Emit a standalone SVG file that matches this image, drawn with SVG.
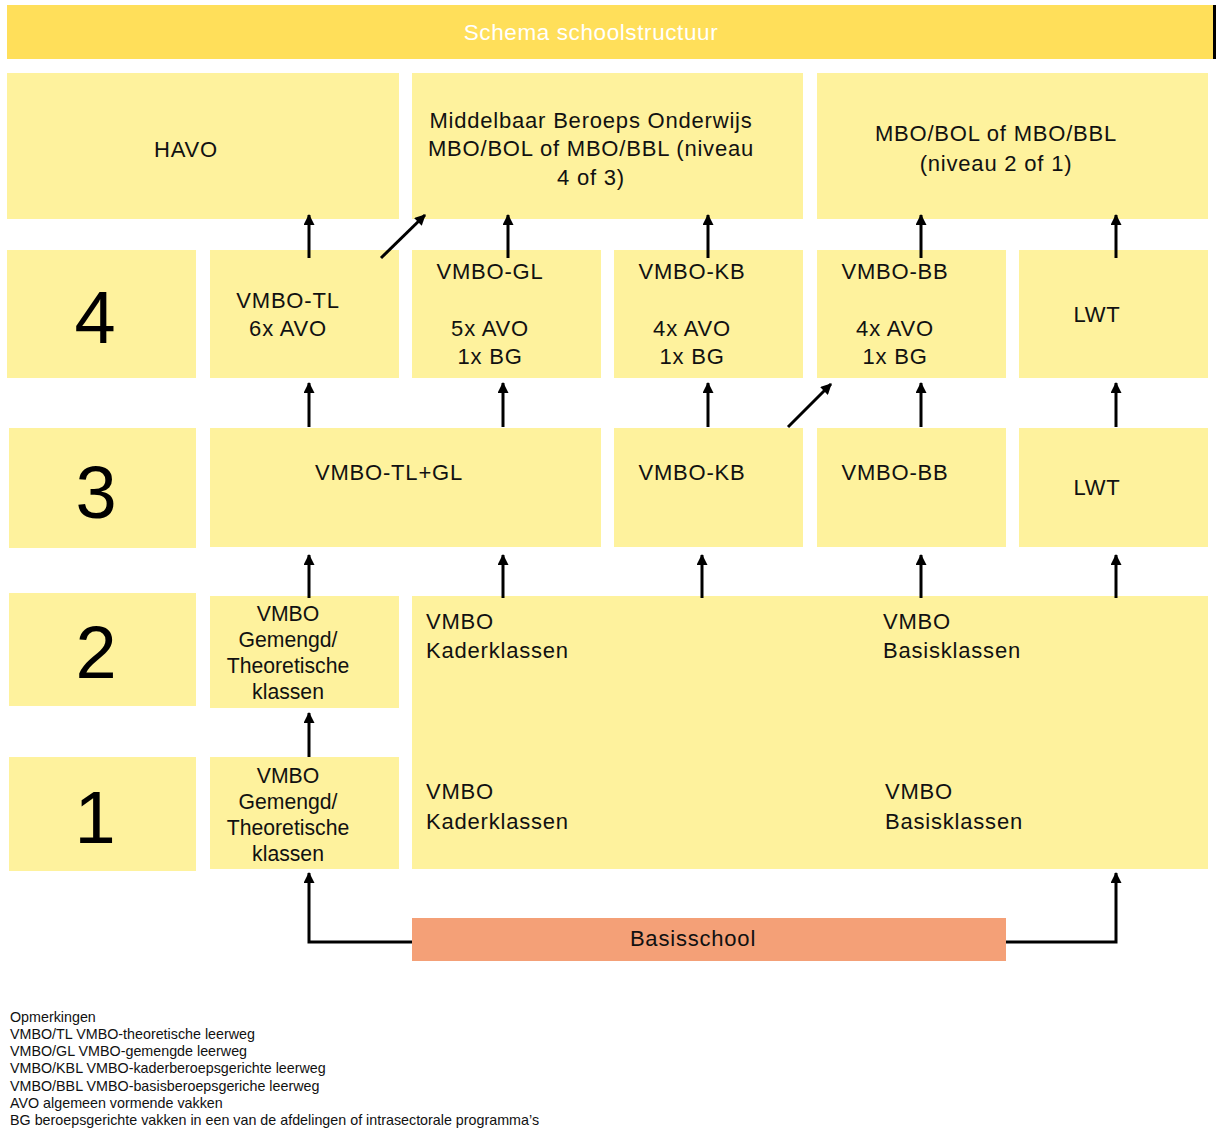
<svg xmlns="http://www.w3.org/2000/svg" width="1216" height="1131" viewBox="0 0 1216 1131">
<style>
.box{fill:#FEF29D;}
.t{font-family:"Liberation Sans",Arial,sans-serif;font-size:22px;fill:#111;letter-spacing:0.8px;}
.g{font-family:"Liberation Sans",Arial,sans-serif;font-size:21.2px;fill:#111;text-anchor:middle;}
.c{text-anchor:middle;}
.num{font-family:"Liberation Sans",Arial,sans-serif;font-size:74px;fill:#000;text-anchor:middle;}
.note{font-family:"Liberation Sans",Arial,sans-serif;font-size:14.3px;fill:#111;}
.conn{stroke:#000;stroke-width:3;fill:none;}
</style>
<defs>
<marker id="ah" viewBox="0 0 10 10" refX="9" refY="5" markerUnits="userSpaceOnUse" markerWidth="15" markerHeight="11" orient="auto">
<path d="M0,0 L10,5 L0,10 z" fill="#000"/>
</marker>
</defs>
<rect width="1216" height="1131" fill="#fff"/>
<g id="title">
<rect x="7" y="5" width="1207" height="54" fill="#FFDF5A"/>
<rect x="1213" y="5" width="3" height="54" fill="#000"/>
<text x="591" y="40" class="t c" style="fill:#fff;letter-spacing:0.6px;font-size:22.5px">Schema schoolstructuur</text>
</g>
<g id="havo"><rect class="box" x="7" y="73" width="392" height="146"/><text class="t c" x="186" y="157">HAVO</text></g>
<g id="mbo34"><rect class="box" x="412" y="73" width="391" height="146"/>
<text class="t c" x="591" y="128">Middelbaar Beroeps Onderwijs</text>
<text class="t c" x="591" y="156">MBO/BOL of MBO/BBL (niveau</text>
<text class="t c" x="591" y="185">4 of 3)</text></g>
<g id="mbo21"><rect class="box" x="817" y="73" width="391" height="146"/>
<text class="t c" x="996" y="141">MBO/BOL of MBO/BBL</text>
<text class="t c" x="996" y="171">(niveau 2 of 1)</text></g>

<g id="n4"><rect class="box" x="7" y="250" width="189" height="128"/><text class="num" x="95" y="343">4</text></g>
<g id="tl4"><rect class="box" x="210" y="250" width="189" height="128"/>
<text class="t c" x="288" y="308">VMBO-TL</text><text class="t c" x="288" y="336">6x AVO</text></g>
<g id="gl4"><rect class="box" x="412" y="250" width="189" height="128"/>
<text class="t c" x="490" y="279">VMBO-GL</text><text class="t c" x="490" y="336">5x AVO</text><text class="t c" x="490" y="364">1x BG</text></g>
<g id="kb4"><rect class="box" x="614" y="250" width="189" height="128"/>
<text class="t c" x="692" y="279">VMBO-KB</text><text class="t c" x="692" y="336">4x AVO</text><text class="t c" x="692" y="364">1x BG</text></g>
<g id="bb4"><rect class="box" x="817" y="250" width="189" height="128"/>
<text class="t c" x="895" y="279">VMBO-BB</text><text class="t c" x="895" y="336">4x AVO</text><text class="t c" x="895" y="364">1x BG</text></g>
<g id="lwt4"><rect class="box" x="1019" y="250" width="189" height="128"/><text class="t c" x="1097" y="322">LWT</text></g>

<g id="n3"><rect class="box" x="9" y="428" width="187" height="120"/><text class="num" x="96" y="518">3</text></g>
<g id="tlgl3"><rect class="box" x="210" y="428" width="391" height="119"/><text class="t c" x="389" y="480">VMBO-TL+GL</text></g>
<g id="kb3"><rect class="box" x="614" y="428" width="189" height="119"/><text class="t c" x="692" y="480">VMBO-KB</text></g>
<g id="bb3"><rect class="box" x="817" y="428" width="189" height="119"/><text class="t c" x="895" y="480">VMBO-BB</text></g>
<g id="lwt3"><rect class="box" x="1019" y="428" width="189" height="119"/><text class="t c" x="1097" y="495">LWT</text></g>

<g id="n2"><rect class="box" x="9" y="593" width="187" height="113"/><text class="num" x="96" y="678">2</text></g>
<g id="gt2"><rect class="box" x="210" y="596" width="189" height="112"/>
<text class="g" x="288" y="621">VMBO</text><text class="g" x="288" y="647">Gemengd/</text><text class="g" x="288" y="673">Theoretische</text><text class="g" x="288" y="699">klassen</text></g>
<g id="n1"><rect class="box" x="9" y="757" width="187" height="114"/><text class="num" x="95" y="843">1</text></g>
<g id="gt1"><rect class="box" x="210" y="757" width="189" height="112"/>
<text class="g" x="288" y="783">VMBO</text><text class="g" x="288" y="809">Gemengd/</text><text class="g" x="288" y="835">Theoretische</text><text class="g" x="288" y="861">klassen</text></g>

<g id="kaderbasis"><rect class="box" x="412" y="596" width="796" height="273"/>
<text class="t" x="426" y="629">VMBO</text><text class="t" x="426" y="658">Kaderklassen</text>
<text class="t" x="883" y="629">VMBO</text><text class="t" x="883" y="658">Basisklassen</text>
<text class="t" x="426" y="799">VMBO</text><text class="t" x="426" y="829">Kaderklassen</text>
<text class="t" x="885" y="799">VMBO</text><text class="t" x="885" y="829">Basisklassen</text></g>

<g id="basisschool"><rect x="412" y="918" width="594" height="43" fill="#F4A077"/><text class="t c" x="693" y="946">Basisschool</text></g>

<g id="connectors" class="conn" marker-end="url(#ah)">
<line x1="309" y1="258" x2="309" y2="215"/>
<line x1="381" y1="258" x2="425" y2="215"/>
<line x1="508" y1="258" x2="508" y2="215"/>
<line x1="708" y1="258" x2="708" y2="215"/>
<line x1="921" y1="258" x2="921" y2="215"/>
<line x1="1116" y1="258" x2="1116" y2="215"/>
<line x1="309" y1="427" x2="309" y2="383"/>
<line x1="503" y1="427" x2="503" y2="383"/>
<line x1="708" y1="427" x2="708" y2="383"/>
<line x1="788" y1="427" x2="831" y2="384"/>
<line x1="921" y1="427" x2="921" y2="383"/>
<line x1="1116" y1="427" x2="1116" y2="383"/>
<line x1="309" y1="598" x2="309" y2="555"/>
<line x1="503" y1="598" x2="503" y2="555"/>
<line x1="702" y1="598" x2="702" y2="555"/>
<line x1="921" y1="598" x2="921" y2="555"/>
<line x1="1116" y1="598" x2="1116" y2="555"/>
<line x1="309" y1="757" x2="309" y2="713"/>
<polyline points="412,942 309,942 309,873"/>
<polyline points="1006,942 1116,942 1116,873"/>
</g>

<g id="notes">
<text class="note" x="10" y="1022">Opmerkingen</text>
<text class="note" x="10" y="1039">VMBO/TL VMBO-theoretische leerweg</text>
<text class="note" x="10" y="1056">VMBO/GL VMBO-gemengde leerweg</text>
<text class="note" x="10" y="1073">VMBO/KBL VMBO-kaderberoepsgerichte leerweg</text>
<text class="note" x="10" y="1091">VMBO/BBL VMBO-basisberoepsgeriche leerweg</text>
<text class="note" x="10" y="1108">AVO algemeen vormende vakken</text>
<text class="note" x="10" y="1125">BG beroepsgerichte vakken in een van de afdelingen of intrasectorale programma’s</text>
</g>
</svg>
